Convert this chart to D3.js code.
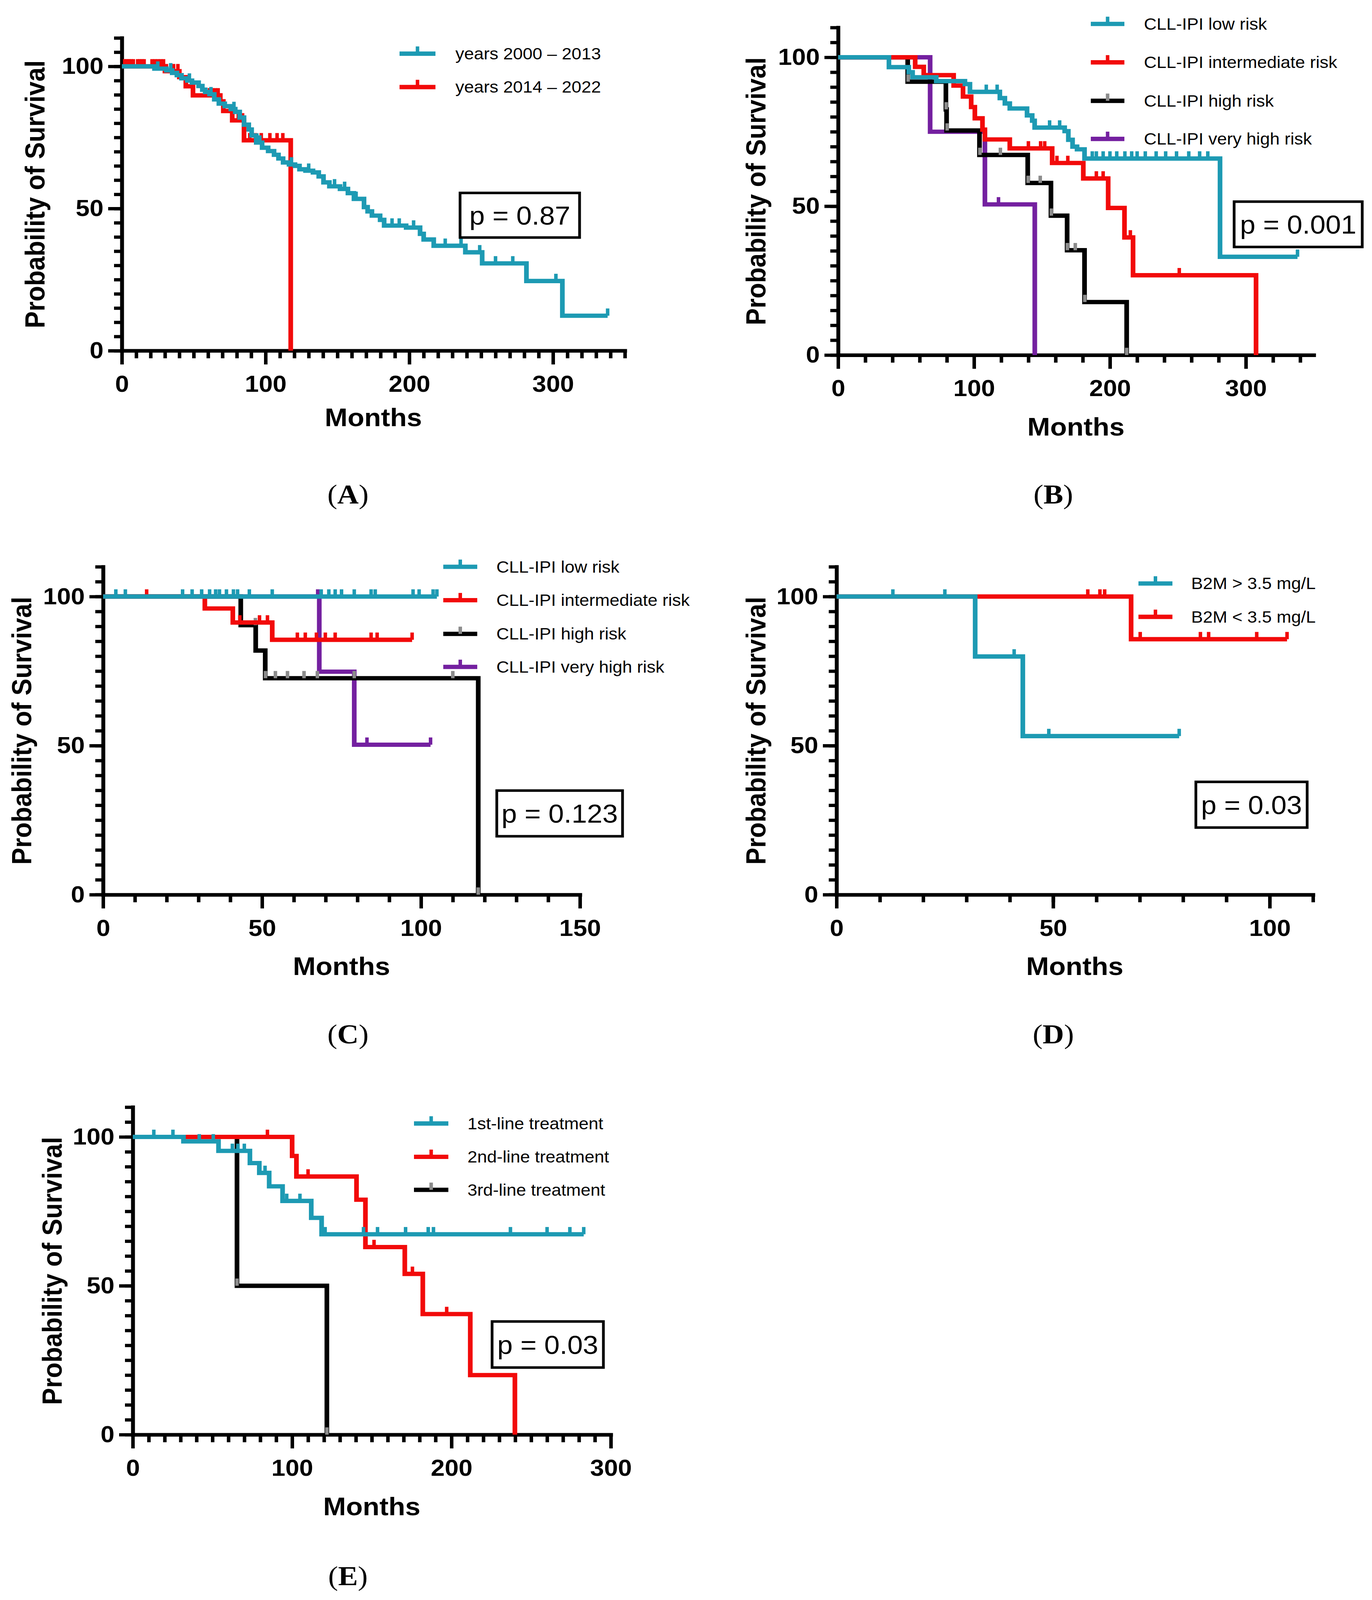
<!DOCTYPE html>
<html><head><meta charset="utf-8">
<script src="https://cdn.jsdelivr.net/npm/d3@7"></script>
<style>html,body{margin:0;padding:0;background:#fff;overflow:hidden}svg{display:block;width:100vw;height:100vh}</style>
</head><body>
<svg id="c" viewBox="0 0 3513 4412" preserveAspectRatio="none"></svg>
<script>
// ---------------- DATA ----------------
const yTicks = [0, 50, 100];
const aXTicks = [0, 100, 200, 300];
const bXTicks = [0, 100, 200, 300];
const cXTicks = [0, 50, 100, 150];
const dXTicks = [0, 50, 100];
const eXTicks = [0, 100, 200, 300];
const pValues = ["p = 0.87", "p = 0.001", "p = 0.123", "p = 0.03", "p = 0.03"];
const panelLetters = ["A", "B", "C", "D", "E"];

// Panel A
const aNames = ["years 2000 \u2013 2013", "years 2014 \u2013 2022"];
const aTeal = [[0,100],[22.7,99.2],[31,98.6],[35,97.7],[38.3,96.9],[41.5,95.8],[45.6,95.0],[48.8,94.3],[53.4,93.1],[56,91.8],[58,91.0],[61,90.2],[64.3,88.4],[67.5,86.9],[71.6,86.0],[75.8,85.0],[78.9,84.0],[82,82.0],[85,79.5],[88.3,77.8],[90.3,75.7],[93.5,73.2],[97.6,71.4],[101.8,70.2],[105.9,68.9],[109,67.6],[112.2,66.2],[116.3,65.5],[120.5,65.0],[123.6,63.8],[127.8,63.3],[133,62.7],[137,61.3],[140.3,59.2],[144.4,57.8],[151.8,56.9],[157.3,55.4],[161.5,53.4],[168.5,50.5],[171,49.0],[174,47.5],[179.7,46.0],[182.5,44.0],[197.8,43.3],[207.5,41.1],[210,39.1],[217,36.9],[239,34.6],[250.7,30.7],[281.5,24.5],[306.5,12.3]];
const aTealEnd = 338;
const aTealCens = [25,34,47,62,78,96,118,130,148,155,163,188,193,203,225,236,249,260,272,302,338];
const aRed = [[0,100],[30,98.3],[40,96.2],[44.5,93.0],[49.5,89.8],[68.5,87.7],[70.6,84.3],[76.8,81.0],[85,74.0],[117.5,0]];
const aRedEnd = 117.5;
const aRedCens = [2,3.5,5,6.5,8,11,12.5,14,15.5,21,23,25,27,29,31,36,39,61,63,65,67,81,84,89,93,97,103,108,112];

// Panel B
const bNames = ["CLL-IPI low risk", "CLL-IPI intermediate risk", "CLL-IPI high risk", "CLL-IPI very high risk"];
const bLow = [[0,100],[37.4,96.7],[52,95.0],[54.8,93.3],[72.2,92.0],[93.3,91.0],[97,88.4],[119,86.3],[122.7,84.5],[126.3,82.8],[139,80.5],[142.8,78.7],[144.6,76.4],[166.7,75.2],[169.4,72.3],[172.5,70.0],[175.8,69.1],[181.3,66.0],[281,33.0]];
const bLowEnd = 338;
const bLowCens = [109,117,155.6,163,187,190,195,200,205,211,216,220,226,234,241,249,258,266,272,338];
const bInt = [[0,100],[56.7,96.8],[63,94.0],[85,90.5],[91.9,86.8],[97.9,83.3],[100.6,79.5],[106.2,75.7],[108,72.4],[126.3,69.4],[157.5,64.5],[180.4,59.3],[198.7,49.4],[210.7,39.5],[217,26.8],[307.5,0]];
const bIntEnd = 307.5;
const bIntCens = [140,149,152,161,169,190,195,215,251];
const bHigh = [[0,100],[51.2,91.8],[79.3,82.5],[79.8,75.4],[104,67.2],[139.5,57.8],[156.6,46.8],[168.5,35.2],[181.3,17.8],[212.3,0]];
const bHighEnd = 212.3;
const bHighCens = [51.5,79.5,80.2,104.3,119.4,139.8,148.7,156.9,168.7,174.5,181.5,212.3];
const bVHigh = [[0,100],[67.7,75.0],[108,50.6],[144.7,0]];
const bVHighEnd = 144.7;
const bVHighCens = [118];

// Panel C
const cNames = ["CLL-IPI low risk", "CLL-IPI intermediate risk", "CLL-IPI high risk", "CLL-IPI very high risk"];
const cLow = [[0,100]];
const cLowEnd = 105;
const cLowCens = [4,7,25,28,31,33.5,35.4,36.6,38.8,41,42.3,46,53.2,68.6,71,73,75,79,84.3,85.6,97.5,99.4,103.8,105];
const cInt = [[0,100],[32,96.0],[40.8,91.3],[53.2,85.5]];
const cIntEnd = 97.2;
const cIntCens = [13.7,43,49.2,51.7,61.1,63.6,67.1,69.9,73,84.3,86.2,97.2];
const cHigh = [[0,100],[43.3,90.4],[48,81.9],[51,72.6],[118,0]];
const cHighEnd = 118;
const cHighCens = [47.9,51.1,54.2,58,63.2,67.4,79,110,118];
const cVHigh = [[0,100],[68,74.8],[79,50.3]];
const cVHighEnd = 103;
const cVHighCens = [67.5,83,103];

// Panel D
const dNames = ["B2M > 3.5 mg/L", "B2M < 3.5 mg/L"];
const dHigh = [[0,100],[32,79.9],[43,53.2]];
const dHighEnd = 79.1;
const dHighCens = [13,25,41,49,79.1];
const dLow = [[0,100],[68,85.7]];
const dLowEnd = 104;
const dLowCens = [58,60.8,61.9,70.1,84,85.9,97,104];

// Panel E
const eNames = ["1st-line treatment", "2nd-line treatment", "3rd-line treatment"];
const e1st = [[0,100],[31.8,98.5],[53.8,95.3],[73.5,91.2],[79.4,87.9],[85.6,83.4],[94,78.5],[112,72.8],[118.5,67.3]];
const e1stEnd = 283;
const e1stCens = [13.2,25.2,41.7,50.5,62.5,66,70,83,96.6,104.9,120.7,144.8,153.6,171.2,185.4,188.7,237,260,274.3,283];
const e2nd = [[0,100],[100,93.6],[102.7,86.7],[140.4,78.9],[146,63.0],[170.7,54.0],[182,40.5],[211.8,20.0],[239.8,0]];
const e2ndEnd = 239.8;
const e2ndCens = [84.5,110,151.4,175.5,197];
const e3rd = [[0,100],[65.4,50],[121.8,0]];
const e3rdEnd = 121.8;
const e3rdCens = [65.4,121.8];

// ---------------- STYLE ----------------
const TEAL = "#1d9ab3", RED = "#f20a0a", BLACK = "#000000", PURPLE = "#7420a0", GREY = "#8c8c8c";
const SANS = "'Liberation Sans', Arial, Helvetica, sans-serif";
const SERIF = "'Liberation Serif', 'Times New Roman', serif";

const svg = d3.select("#c");
svg.append("rect").attr("width", 3513).attr("height", 4412).attr("fill", "#fff");

function survAt(steps, t) {
  let v = steps[0][1];
  for (const s of steps) if (s[0] <= t + 1e-9) v = s[1];
  return v;
}

function drawPanel(p) {
  const g = svg.append("g");
  const x = d3.scaleLinear().domain([0, p.xMax]).range([p.x0, p.x0 + p.xLen]);
  const y = d3.scaleLinear().domain([0, 110]).range([p.y0, p.y0 - p.yLen * 1.1]);

  // minor ticks
  const mx = g.append("g").attr("transform", `translate(0,${p.y0})`)
    .call(d3.axisBottom(x).tickValues(d3.range(0, p.xMax + 1e-6, p.xMinor)).tickSize(21).tickFormat(""));
  mx.select(".domain").remove();
  mx.selectAll("line").attr("stroke-width", 9);
  const my = g.append("g").attr("transform", `translate(${p.x0},0)`)
    .call(d3.axisLeft(y).tickValues(d3.range(0, 110.0001, 5)).tickSize(20).tickFormat(""));
  my.select(".domain").remove();
  my.selectAll("line").attr("stroke-width", 9);

  // major axes
  const xa = g.append("g").attr("transform", `translate(0,${p.y0})`)
    .call(d3.axisBottom(x).tickValues(p.xTicks).tickSize(38).tickSizeOuter(0).tickPadding(30).tickFormat(d3.format("d")));
  const ya = g.append("g").attr("transform", `translate(${p.x0},0)`)
    .call(d3.axisLeft(y).tickValues(yTicks).tickSize(35).tickSizeOuter(0).tickPadding(12).tickFormat(d3.format("d")));
  [xa, ya].forEach(a => {
    a.select(".domain").attr("stroke-width", 10).attr("stroke-linecap", "square");
    a.selectAll(".tick line").attr("stroke-width", 9);
    a.selectAll("text").attr("font-family", SANS).attr("font-size", 64)
      .attr("font-weight", "bold").attr("fill", "#000");
  });

  // curves (first series on top)
  const line = d3.line().x(d => x(d[0])).y(d => y(d[1])).curve(d3.curveStepAfter);
  p.series.slice().reverse().forEach(s => {
    const pts = s.steps.map(d => d.slice());
    const last = pts[pts.length - 1];
    if (s.end > last[0]) pts.push([s.end, last[1]]);
    g.append("path").attr("d", line(pts)).attr("fill", "none")
      .attr("stroke", s.color).attr("stroke-width", 12)
      .attr("stroke-linejoin", "miter").attr("stroke-linecap", "butt");
    g.append("g").selectAll("line").data(s.cens).join("line")
      .attr("x1", t => x(t)).attr("x2", t => x(t))
      .attr("y1", t => y(survAt(s.steps, t)))
      .attr("y2", t => y(survAt(s.steps, t)) - 20)
      .attr("stroke", s.tick || s.color).attr("stroke-width", 9);
  });

  // legend
  p.series.forEach((s, i) => {
    const ry = p.legRows[i];
    g.append("line").attr("x1", p.legX0).attr("x2", p.legX1).attr("y1", ry).attr("y2", ry)
      .attr("stroke", s.color).attr("stroke-width", 12);
    const cx = (p.legX0 + p.legX1) / 2;
    g.append("line").attr("x1", cx).attr("x2", cx).attr("y1", ry).attr("y2", ry - 20)
      .attr("stroke", s.tick || s.color).attr("stroke-width", 9);
    g.append("text").attr("x", p.legTx).attr("y", ry).attr("dy", "0.35em")
      .attr("font-family", SANS).attr("font-size", 45).attr("fill", "#000").text(s.name);
  });

  // p-value box
  const b = p.pBox;
  g.append("rect").attr("x", b[0]).attr("y", b[1]).attr("width", b[2]).attr("height", b[3])
    .attr("fill", "none").attr("stroke", "#000").attr("stroke-width", 7);
  g.append("text").attr("x", b[0] + b[2] / 2).attr("y", b[1] + b[3] / 2).attr("dy", "0.36em")
    .attr("text-anchor", "middle").attr("font-family", SANS).attr("font-size", 71)
    .attr("fill", "#000").text(p.pText);

  // axis titles
  g.append("text")
    .attr("transform", `translate(${p.x0 - p.yTitleOff},${(y(0) + y(110)) / 2}) rotate(-90)`)
    .attr("text-anchor", "middle").attr("font-family", SANS).attr("font-size", 70)
    .attr("font-weight", "bold").attr("fill", "#000").text("Probability of Survival");
  g.append("text").attr("x", (x(0) + x(p.xMax)) / 2).attr("y", p.y0 + p.monthsOff)
    .attr("text-anchor", "middle").attr("font-family", SANS).attr("font-size", 70)
    .attr("font-weight", "bold").attr("fill", "#000").text("Months");

  // panel letter
  const t = svg.append("text").attr("x", p.lab[0]).attr("y", p.lab[1]).attr("text-anchor", "middle")
    .attr("font-family", SERIF).attr("font-size", 76).attr("fill", "#000");
  t.append("tspan").text("(");
  t.append("tspan").attr("font-weight", "bold").text(p.letter);
  t.append("tspan").text(")");
}

const panels = [
  { letter: panelLetters[0], x0: 312, xLen: 1288, xMax: 350, xMinor: 10, xTicks: aXTicks, y0: 967, yLen: 784,
    yTitleOff: 198, monthsOff: 208, legX0: 1023, legX1: 1115, legTx: 1166, legRows: [148, 240],
    pBox: [1178, 532, 306, 123], pText: pValues[0], lab: [891, 1388],
    series: [
      { name: aNames[0], color: TEAL, steps: aTeal, end: aTealEnd, cens: aTealCens },
      { name: aNames[1], color: RED, steps: aRed, end: aRedEnd, cens: aRedCens }
    ] },
  { letter: panelLetters[1], x0: 2146, xLen: 1218, xMax: 350, xMinor: 20, xTicks: bXTicks, y0: 979, yLen: 821,
    yTitleOff: 186, monthsOff: 222, legX0: 2793, legX1: 2879, legTx: 2929, legRows: [66, 172, 278, 383],
    pBox: [3160, 556, 328, 125], pText: pValues[1], lab: [2697, 1388],
    series: [
      { name: bNames[0], color: TEAL, steps: bLow, end: bLowEnd, cens: bLowCens },
      { name: bNames[1], color: RED, steps: bInt, end: bIntEnd, cens: bIntCens },
      { name: bNames[2], color: BLACK, tick: GREY, steps: bHigh, end: bHighEnd, cens: bHighCens },
      { name: bNames[3], color: PURPLE, steps: bVHigh, end: bVHighEnd, cens: bVHighCens }
    ] },
  { letter: panelLetters[2], x0: 264, xLen: 1221, xMax: 150, xMinor: 10, xTicks: cXTicks, y0: 2467, yLen: 822,
    yTitleOff: 184, monthsOff: 222, legX0: 1135, legX1: 1222, legTx: 1271, legRows: [1563, 1655, 1748, 1839],
    pBox: [1272, 2180, 322, 126], pText: pValues[2], lab: [891, 2877],
    series: [
      { name: cNames[0], color: TEAL, steps: cLow, end: cLowEnd, cens: cLowCens },
      { name: cNames[1], color: RED, steps: cInt, end: cIntEnd, cens: cIntCens },
      { name: cNames[2], color: BLACK, tick: GREY, steps: cHigh, end: cHighEnd, cens: cHighCens },
      { name: cNames[3], color: PURPLE, steps: cVHigh, end: cVHighEnd, cens: cVHighCens }
    ] },
  { letter: panelLetters[3], x0: 2142, xLen: 1220, xMax: 110, xMinor: 10, xTicks: dXTicks, y0: 2467, yLen: 822,
    yTitleOff: 182, monthsOff: 222, legX0: 2915, legX1: 3002, legTx: 3050, legRows: [1609, 1701],
    pBox: [3062, 2156, 285, 126], pText: pValues[3], lab: [2697, 2877],
    series: [
      { name: dNames[0], color: TEAL, steps: dHigh, end: dHighEnd, cens: dHighCens },
      { name: dNames[1], color: RED, steps: dLow, end: dLowEnd, cens: dLowCens }
    ] },
  { letter: panelLetters[4], x0: 340, xLen: 1224, xMax: 300, xMinor: 10, xTicks: eXTicks, y0: 3956, yLen: 821,
    yTitleOff: 182, monthsOff: 222, legX0: 1060, legX1: 1148, legTx: 1197, legRows: [3098, 3190, 3281],
    pBox: [1260, 3644, 285, 127], pText: pValues[4], lab: [891, 4371],
    series: [
      { name: eNames[0], color: TEAL, steps: e1st, end: e1stEnd, cens: e1stCens },
      { name: eNames[1], color: RED, steps: e2nd, end: e2ndEnd, cens: e2ndCens },
      { name: eNames[2], color: BLACK, tick: GREY, steps: e3rd, end: e3rdEnd, cens: e3rdCens }
    ] }
];

panels.forEach(drawPanel);
</script>
</body></html>
